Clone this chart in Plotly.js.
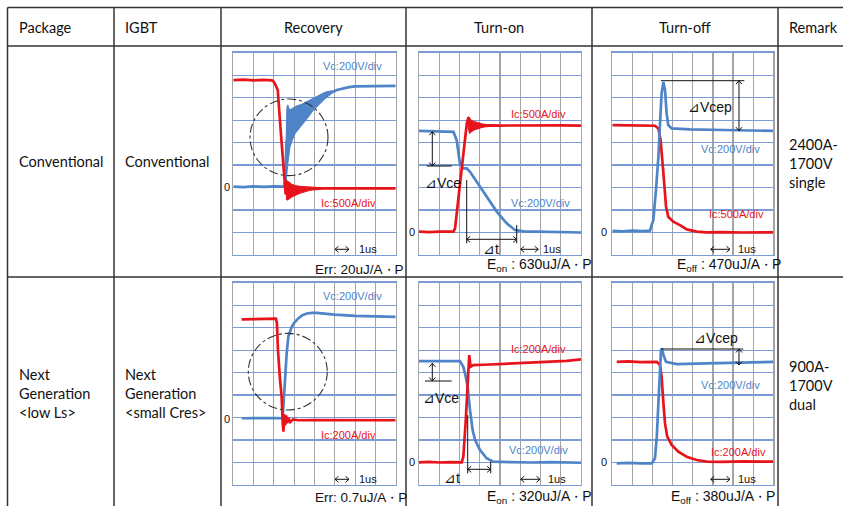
<!DOCTYPE html>
<html><head><meta charset="utf-8">
<script src="https://cdn.plot.ly/plotly-3.0.1.min.js"></script>
<style>html,body{margin:0;padding:0;background:#fff}#chart{width:843px;height:506px}</style>
</head><body><div id="chart"></div>
<script>
// ---------- table text ----------
const headers = ["Package", "IGBT", "Recovery", "Turn-on", "Turn-off", "Remark"];
const packageRows = ["Conventional", "Next<br>Generation<br>&lt;low Ls&gt;"];
const igbtRows = ["Conventional", "Next<br>Generation<br>&lt;small Cres&gt;"];
const remarkRows = ["2400A-<br>1700V<br>single", "900A-<br>1700V<br>dual"];
const DOT = "<span style='font-size:12px'>・</span>";
const energyLabels = ["Err: 20uJ/A" + DOT + "P", "E<sub>on</sub> : 630uJ/A" + DOT + "P", "E<sub>off</sub> : 470uJ/A" + DOT + "P",
                      "Err: 0.7uJ/A" + DOT + "P", "E<sub>on</sub> : 320uJ/A" + DOT + "P", "E<sub>off</sub> : 380uJ/A" + DOT + "P"];
const icLabels = ["Ic:500A/div", "Ic:500A/div", "Ic:500A/div", "Ic:200A/div", "Ic:200A/div", "Ic:200A/div"];
const vcLabel = "Vc:200V/div";

// ---------- waveforms (time in divisions, amplitude in divisions) ----------
// Recovery, conventional
const rec1IcX = [0,0.5,1,1.5,1.9,1.98,2.06,2.19,2.35,2.51,2.58,2.64,2.8,3.0,3.3,3.7,4.2,5,6,7,8];
const rec1IcY = [4.78,4.8,4.77,4.79,4.77,4.72,4.6,4.34,2.35,0.34,-0.3,-0.1,-0.08,-0.06,-0.05,-0.04,-0.04,-0.03,-0.04,-0.03,-0.04];
const rec1IcRingUpX = [2.56,2.62,2.72,2.87,3.05,3.28,3.78,4.3];
const rec1IcRingUpY = [0.36,0.33,0.25,0.15,0.09,0.05,0.01,-0.01];
const rec1IcRingLoX = [2.6,2.66,2.75,2.87,3.05,3.28,3.78,4.3];
const rec1IcRingLoY = [-0.5,-0.55,-0.5,-0.42,-0.33,-0.25,-0.12,-0.07];
const rec1VcX = [0,0.5,1,1.5,2,2.3,2.5,2.56,2.62,2.75,3.0,3.3,3.6,3.9,4.2,4.5,4.8,5.1,5.4,5.7,6.0,6.5,7,7.5,8];
const rec1VcY = [0.04,0.02,0.05,0.03,0.05,0.03,0.04,0.3,2.0,2.6,2.9,3.2,3.45,3.7,3.9,4.08,4.22,4.34,4.42,4.47,4.5,4.51,4.53,4.52,4.52];
const rec1VcUpX = [2.56,2.6,2.64,2.68,2.72,2.8,2.9,3.1,3.4,3.6,3.9,4.1,4.4,4.6,4.85];
const rec1VcUpY = [0.1,2.6,3.5,3.68,3.55,3.45,3.5,3.62,3.72,3.82,3.95,4.04,4.18,4.26,4.3];
const rec1VcLoX = [2.58,2.63,2.7,2.79,2.9,3.04,3.2,3.45,3.7,3.94,4.27,4.5,4.85];
const rec1VcLoY = [0.1,0.6,1.2,1.82,2.1,2.41,2.6,2.86,3.15,3.45,3.75,3.95,4.2];

// Turn-on, conventional
const on1IcX = [0,0.5,1,1.5,1.7,1.78,1.94,2.11,2.27,2.36,2.44,2.55,2.8,3.2,4,5,6,7,8];
const on1IcY = [0.04,0.02,0.04,0.02,0.04,0.19,1.44,2.92,4.26,4.85,5.12,4.75,4.8,4.77,4.76,4.77,4.76,4.77,4.76];
const on1IcRingUpX = [2.42,2.5,2.6,2.75,2.9,3.1,3.3,3.6,3.9];
const on1IcRingUpY = [5.15,5.05,4.98,4.92,4.87,4.83,4.8,4.79,4.78];
const on1IcRingLoX = [2.42,2.5,2.6,2.75,2.9,3.1,3.3,3.6,3.9];
const on1IcRingLoY = [4.7,4.42,4.5,4.58,4.64,4.68,4.71,4.73,4.74];
const on1VcX = [0,0.5,1,1.5,1.7,1.86,2.02,2.19,2.36,2.52,2.85,3.34,3.84,4.33,4.74,5.2,5.64,6.5,7.3,8];
const on1VcY = [4.52,4.51,4.5,4.49,4.48,4.11,3.07,2.85,2.85,2.7,2.26,1.59,0.93,0.41,0.11,0.05,0.04,0.02,0.03,0.0];

// Turn-off, conventional
const off1IcX = [0,0.5,1,1.5,2.12,2.29,2.4,2.54,2.67,2.78,3.03,3.36,3.7,4.19,4.69,5.5,6.5,8];
const off1IcY = [4.78,4.77,4.79,4.76,4.75,4.63,4.11,2.63,1.15,0.7,0.48,0.33,0.14,0.04,0.01,0.02,0.0,0.01];
const off1VcX = [0,0.5,1,1.5,1.87,2.04,2.17,2.29,2.37,2.45,2.54,2.62,2.7,2.78,2.95,3.86,5.52,6.5,8];
const off1VcY = [0.07,0.05,0.08,0.06,0.08,0.56,1.89,3.37,4.85,6.19,6.7,6.33,5.3,4.78,4.63,4.59,4.56,4.55,4.52];

// Recovery, next generation
const rec2IcX = [0.41,1.0,1.5,2.0,2.1,2.15,2.2,2.3,2.38,2.44,2.47,2.5,2.55,2.6,2.65,2.7,2.8,2.95,3.2,4,5,6,7,8];
const rec2IcY = [4.37,4.38,4.36,4.38,4.4,4.2,3.0,1.7,0.93,-0.3,-0.63,0.15,-0.35,0.1,-0.25,0.0,-0.2,-0.08,-0.12,-0.11,-0.12,-0.11,-0.12,-0.12];
const rec2VcX = [0.41,1.0,1.5,2.0,2.43,2.5,2.55,2.6,2.63,2.71,2.8,2.88,3.0,3.2,3.4,3.62,3.9,4.11,5,6,7,8];
const rec2VcY = [-0.03,-0.02,-0.04,-0.02,-0.03,1.0,2.12,2.5,2.86,3.6,3.85,4.04,4.22,4.41,4.55,4.63,4.66,4.66,4.58,4.52,4.5,4.48];

// Turn-on, next generation
const on2IcX = [0,0.5,1,1.5,2.11,2.19,2.31,2.4,2.47,2.48,2.55,2.68,3.2,4.0,4.8,5.64,6.5,7.3,8];
const on2IcY = [0.01,0.03,0.0,0.02,0.01,0.26,1.89,3.37,4.26,4.78,4.26,4.33,4.35,4.38,4.4,4.44,4.48,4.52,4.59];
const on2VcX = [0,0.5,1,1.5,2.02,2.19,2.31,2.4,2.52,2.65,2.77,3.01,3.34,3.67,4.5,5.5,6.5,7.3,8];
const on2VcY = [4.51,4.52,4.5,4.51,4.51,4.26,3.81,3.37,2.33,1.44,1.0,0.56,0.19,0.04,0.02,0.0,0.02,0.0,-0.01];

// Turn-off, next generation
const off2IcX = [0.22,0.8,1.4,2.21,2.37,2.45,2.54,2.62,2.73,2.95,3.28,3.7,4.19,4.69,5.5,6.5,8];
const off2IcY = [4.48,4.5,4.47,4.48,4.33,3.81,2.63,1.74,1.15,0.78,0.48,0.26,0.11,0.04,0.03,0.05,0.04];
const off2VcX = [0.22,0.8,1.4,1.96,2.12,2.21,2.29,2.37,2.42,2.47,2.54,2.67,3.2,4.69,6,8];
const off2VcY = [-0.04,-0.02,-0.04,-0.04,0.19,1.15,2.63,4.11,5.0,5.07,4.78,4.48,4.38,4.41,4.45,4.48];

// ---------- helpers ----------
const W = 843, H = 506;
const px = x => x / W, py = y => 1 - y / H;
const RED = "#e8141c", BLUE = "#4f84c8";
const TFONT = "Lato, 'Open Sans', sans-serif";
const PFONT = "Arial, 'Liberation Sans', sans-serif";

const colX = [[233.3, 395.7], [419, 581], [612.3, 773.3]];
const rowY = [[52.7, 255], [282.7, 485]];
const yRanges = [[-3, 6], [-1, 8], [-1, 8]];

const traces = [];
function line(ax, xs, ys, color) {
  traces.push({type: "scatter", mode: "lines", x: xs, y: ys, xaxis: "x" + ax, yaxis: "y" + ax,
    line: {color: color, width: 2.7}, hoverinfo: "skip"});
}
function band(ax, ux, uy, lx, ly, color) {
  traces.push({type: "scatter", mode: "lines", x: ux.concat(lx.slice().reverse()), y: uy.concat(ly.slice().reverse()),
    xaxis: "x" + ax, yaxis: "y" + ax, fill: "toself", fillcolor: color, line: {color: color, width: 1.2}, hoverinfo: "skip"});
}

band(1, rec1VcUpX, rec1VcUpY, rec1VcLoX, rec1VcLoY, BLUE);
line(1, rec1VcX, rec1VcY, BLUE);
band(1, rec1IcRingUpX, rec1IcRingUpY, rec1IcRingLoX, rec1IcRingLoY, RED);
line(1, rec1IcX, rec1IcY, RED);

line(2, on1VcX, on1VcY, BLUE);
band(2, on1IcRingUpX, on1IcRingUpY, on1IcRingLoX, on1IcRingLoY, RED);
line(2, on1IcX, on1IcY, RED);

line(3, off1IcX, off1IcY, RED);
line(3, off1VcX, off1VcY, BLUE);

line(4, rec2VcX, rec2VcY, BLUE);
line(4, rec2IcX, rec2IcY, RED);

line(5, on2VcX, on2VcY, BLUE);
line(5, on2IcX, on2IcY, RED);

line(6, off2IcX, off2IcY, RED);
line(6, off2VcX, off2VcY, BLUE);

const layout = {
  width: W, height: H, margin: {l: 0, r: 0, t: 0, b: 0},
  paper_bgcolor: "#fff", plot_bgcolor: "#fff", showlegend: false,
  shapes: [], annotations: []
};

for (let r = 0; r < 2; r++) {
  for (let c = 0; c < 3; c++) {
    const i = r * 3 + c + 1;
    const xs = i === 1 ? "xaxis" : "xaxis" + i;
    const ys = i === 1 ? "yaxis" : "yaxis" + i;
    layout[xs] = {domain: [px(colX[c][0]), px(colX[c][1])], range: [0, 8], anchor: "y" + i,
      tickmode: "linear", tick0: 0, dtick: 1, showticklabels: false, ticks: "",
      showgrid: true, gridcolor: "#a4a4a4", gridwidth: 1.2, zeroline: false,
      showline: true, mirror: true, linecolor: "#7b9bd6", linewidth: 1.3, fixedrange: true};
    layout[ys] = {domain: [py(rowY[r][1]), py(rowY[r][0])], range: yRanges[c], anchor: "x" + i,
      tickmode: "linear", tick0: 0, dtick: 1, showticklabels: false, ticks: "",
      showgrid: true, gridcolor: "#7b9bd6", gridwidth: 1.2, zeroline: false,
      showline: true, mirror: true, linecolor: "#a4a4a4", linewidth: 1.3, fixedrange: true};
  }
}

// table lines
const TL = {color: "#333", width: 1.5};
function seg(x0, y0, x1, y1, ln) {
  layout.shapes.push({type: "line", xref: "paper", yref: "paper", x0: px(x0), y0: py(y0), x1: px(x1), y1: py(y1),
    line: Object.assign({}, ln)});
}
seg(7.5, 7.5, 843, 7.5, TL);
seg(7.5, 46, 843, 46, TL);
seg(7.5, 277, 843, 277, TL);
[7.5, 114, 221, 406, 592, 778].forEach(x => seg(x, 7.5, x, 506, TL));

// dash-dot circles on recovery panels
function circ(x0, y0, x1, y1) {
  layout.shapes.push({type: "circle", xref: "paper", yref: "paper", x0: px(x0), x1: px(x1), y0: py(y1), y1: py(y0),
    line: {color: "#333", width: 1.1, dash: "dashdot"}});
}
circ(250, 99, 328, 175.6);
circ(248.3, 333.4, 327.3, 410);

// marker lines
const BL = {color: "#111", width: 1};
seg(426.7, 166, 451.7, 166, BL);
seg(466.7, 180, 466.7, 243.3, BL);
seg(516.7, 225, 516.7, 243.3, BL);
seg(661, 80.7, 744.3, 80.7, BL);
seg(425, 381, 451.7, 381, BL);
seg(467.7, 415, 467.7, 473.3, BL);
seg(490.7, 461.7, 490.7, 473.3, BL);
seg(661, 349, 743.3, 349, BL);

// double-headed arrows drawn as paths
function darrow(x0, y0, x1, y1) {
  const L = Math.hypot(x1 - x0, y1 - y0), ux = (x1 - x0) / L, uy = (y1 - y0) / L;
  const nx = -uy, ny = ux, h = 3.5, w = 3;
  const P = (x, y) => px(x).toFixed(6) + "," + py(y).toFixed(6);
  const head = (ex, ey, dx, dy) => "M" + P(ex + h * dx + w * nx, ey + h * dy + w * ny) + "L" + P(ex, ey) +
      "L" + P(ex + h * dx - w * nx, ey + h * dy - w * ny);
  const path = "M" + P(x0, y0) + "L" + P(x1, y1) + head(x0, y0, ux, uy) + head(x1, y1, -ux, -uy);
  layout.shapes.push({type: "path", xref: "paper", yref: "paper", path: path, line: {color: "#111", width: 1}});
}

// text helper
function txt(x, y, text, o) {
  o = o || {};
  layout.annotations.push({xref: "paper", yref: "paper", x: px(x), y: py(y), text: text, showarrow: false,
    xanchor: o.xa || "left", yanchor: "middle", align: o.xa || "left",
    font: {family: o.f || TFONT, size: o.s || 14.5, color: o.c || "#111"}, borderpad: 0});
}

// headers
txt(17.5, 27.5, headers[0]);
txt(124, 27.5, headers[1]);
txt(313.5, 27.5, headers[2], {xa: "center"});
txt(499, 27.5, headers[3], {xa: "center"});
txt(685, 27.5, headers[4], {xa: "center"});
txt(788, 27.5, headers[5]);
// rows
txt(17.5, 162, packageRows[0]);
txt(124, 162, igbtRows[0]);
txt(788, 163.3, remarkRows[0]);
txt(17.5, 393.3, packageRows[1]);
txt(124, 393.3, igbtRows[1]);
txt(788, 385, remarkRows[1]);

// in-plot labels
const LS = 11;
const P = (x, y, t, c, xa) => txt(x, y, t, {f: PFONT, s: LS, c: c, xa: xa});
// recovery row 1
P(383, 66, vcLabel, BLUE, "right");
P(320, 202.7, icLabels[0], RED);
P(231, 186.7, "0", "#111", "right");
darrow(335, 249.3, 349, 249.3); P(358, 249.3, "1us", "#111");
txt(314, 269, energyLabels[0], {f: PFONT, s: 13.5});
// turn-on row 1
P(510, 114, icLabels[1], RED);
P(510, 203.3, vcLabel, BLUE);
P(416, 231.7, "0", "#111", "right");
darrow(432.3, 131.7, 432.3, 166);
txt(424, 183.3, "⊿Vce", {f: PFONT, s: 14});
darrow(466.7, 239.3, 516.7, 239.3);
txt(481.7, 249.5, "⊿t", {f: PFONT, s: 14});
darrow(520.7, 249.3, 538.3, 249.3); P(542, 249.3, "1us", "#111");
txt(486, 265, energyLabels[1], {f: PFONT, s: 14});
// turn-off row 1
txt(686.7, 106.7, "⊿Vcep", {f: PFONT, s: 14});
darrow(739, 80.7, 739, 130.7);
P(700, 148.7, vcLabel, BLUE);
P(708, 214.3, icLabels[2], RED);
P(608, 231.7, "0", "#111", "right");
darrow(710.7, 249.3, 730, 249.3); P(737, 249.3, "1us", "#111");
txt(676, 265, energyLabels[2], {f: PFONT, s: 14});
// recovery row 2
P(383, 296, vcLabel, BLUE, "right");
P(320, 435, icLabels[3], RED);
P(231, 419, "0", "#111", "right");
darrow(335, 479.3, 349, 479.3); P(358, 479.3, "1us", "#111");
txt(314, 497.5, energyLabels[3], {f: PFONT, s: 13.5});
// turn-on row 2
P(510, 349.3, icLabels[4], RED);
P(508, 450, vcLabel, BLUE);
P(416, 462.3, "0", "#111", "right");
darrow(432.3, 363.3, 432.3, 381);
txt(422, 398.3, "⊿Vce", {f: PFONT, s: 14});
darrow(467.7, 469.3, 490.7, 469.3);
txt(443, 477.5, "⊿t", {f: PFONT, s: 14});
darrow(520.7, 479.3, 540, 479.3); P(547, 479.3, "1us", "#111");
txt(486, 496.5, energyLabels[4], {f: PFONT, s: 14});
// turn-off row 2
txt(693.3, 338.3, "⊿Vcep", {f: PFONT, s: 14});
darrow(739, 349, 739, 365);
P(700, 385.3, vcLabel, BLUE);
P(710, 452.3, icLabels[5], RED);
P(608, 462.3, "0", "#111", "right");
darrow(710.7, 479.3, 730, 479.3); P(737, 479.3, "1us", "#111");
txt(670, 496.5, energyLabels[5], {f: PFONT, s: 14});

Plotly.newPlot("chart", traces, layout, {staticPlot: true, displayModeBar: false});
</script>
</body></html>
